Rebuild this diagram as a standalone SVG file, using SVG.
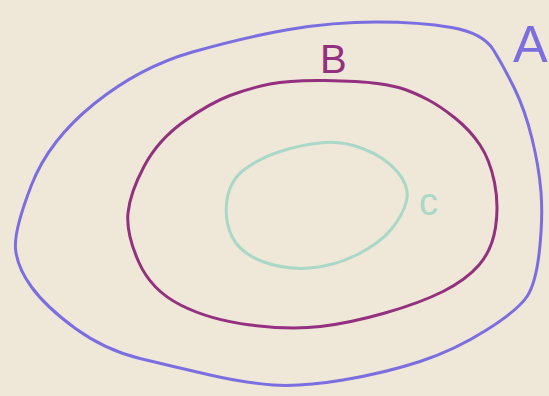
<svg xmlns="http://www.w3.org/2000/svg" width="549" height="396" viewBox="0 0 549 396">
<style>
.set{fill:none;stroke-linejoin:round;stroke-linecap:round}
.a{stroke:#7a6ee0;stroke-width:3}
.b{stroke:#93307f;stroke-width:3}
.c{stroke:#aad8c8;stroke-width:3}
.lbl{font-family:"Liberation Sans",Arial,sans-serif}
</style>
<rect width="549" height="396" fill="#efe7d7"/>
<g id="setA">
<path class="set a" d="M15.5,248.5 Q14,230 31.5,185 Q49,140 94.5,103.5 Q140,67 192.5,52 Q245,37 289,29.5 Q333,22 376.5,22 Q420,22 451.5,27.5 Q483,33 493.5,50 Q504,67 514.5,88.5 Q525,110 532,138.5 Q539,167 541,192 Q543,217 539.5,250 Q536,283 527,296.5 Q518,310 486.5,330 Q455,350 420,361.5 Q385,373 343,380 Q301,387 273,385 Q245,383 210,375 Q175,367 140,358.5 Q105,350 75.5,328.5 Q46,307 31.5,287 Q17,267 15.5,248.5 Z"/>
<text class="lbl" x="513" y="62" font-size="52" fill="#7a6ee0">A</text>
</g>
<g id="setB">
<path class="set b" d="M138.5,261.5 Q126,233 128,213 Q130,193 144,166.5 Q158,140 184,121.5 Q210,103 230,95.5 Q250,88 270,84 Q290,80 325,80.5 Q360,81 377.5,83.5 Q395,86 405,89.5 Q415,93 427.5,99.5 Q440,106 455,118 Q470,130 480,145 Q490,160 494.5,182.5 Q499,205 495.5,227.5 Q492,250 479,265 Q466,280 443,291.5 Q420,303 385,313 Q350,323 320.5,326.5 Q291,330 250.5,325 Q210,320 180.5,305 Q151,290 138.5,261.5 Z"/>
<text class="lbl" x="320" y="73" font-size="40" fill="#93307f">B</text>
</g>
<g id="setC">
<path class="set c" d="M232,236.5 Q224,220 227,200 Q230,180 245,169 Q260,158 280,151.5 Q300,145 320,143 Q340,140 362.5,148.5 Q385,157 397.5,172 Q410,187 406.5,201 Q403,215 391.5,229 Q380,243 357.5,254.5 Q335,266 310,268 Q285,270 262.5,261.5 Q240,253 232,236.5 Z"/>
<text class="lbl" x="419" y="215" font-size="38" fill="#aad8c8">c</text>
</g>
<g id="connectors"/>
</svg>
